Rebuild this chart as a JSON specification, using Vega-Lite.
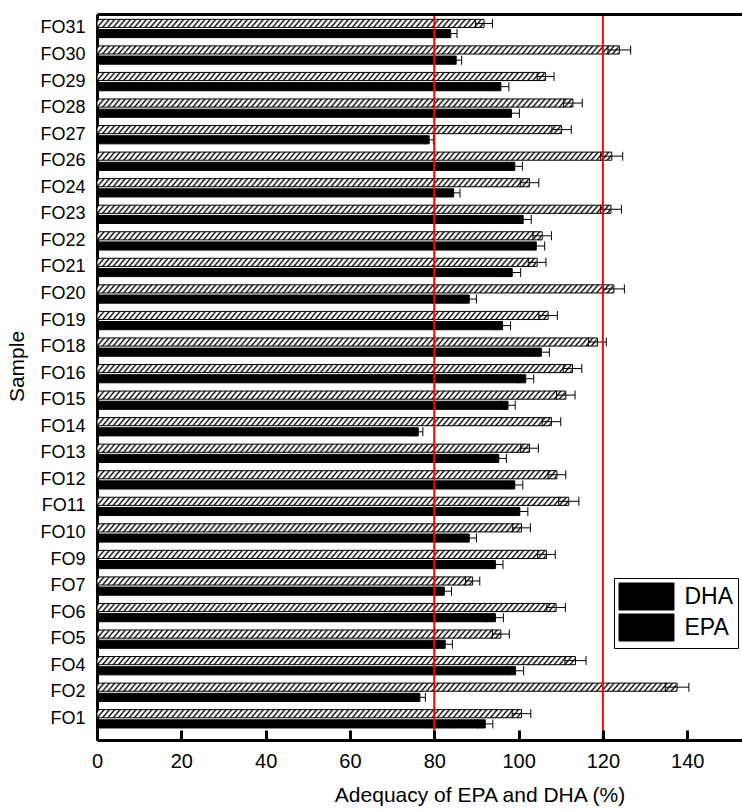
{
"$schema": "https://vega.github.io/schema/vega-lite/v6.json",
"width": 645, "height": 726,
"autosize": {"type": "none"},
"padding": {"left": 97, "top": 14, "right": 0, "bottom": 72},
"background": "white",
"config": {
  "view": {"stroke": null},
  "axis": {"labelFont": "Liberation Sans", "titleFont": "Liberation Sans", "labelColor": "#000", "titleColor": "#000", "domainColor": "#000", "tickColor": "#000", "grid": false, "titleFontWeight": "normal"},
  "axisY": {"domainWidth": 3, "ticks": false, "labelFontSize": 18, "labelPadding": 12, "titleFontSize": 21, "titleX": -80, "titleY": 352, "titleAngle": 270, "titleAlign": "center", "titleBaseline": "middle", "zindex": 1},
  "legend": {"labelFont": "Liberation Sans", "titleFont": "Liberation Sans"}
},
"data": {"values": [
{"s":"FO31","a":"DHA","v":91.8,"lo":89.8,"hi":93.8},{"s":"FO31","a":"EPA","v":83.9,"lo":82.4,"hi":85.4},
{"s":"FO30","a":"DHA","v":123.9,"lo":121.2,"hi":126.6},{"s":"FO30","a":"EPA","v":85.2,"lo":83.9,"hi":86.5},
{"s":"FO29","a":"DHA","v":106.4,"lo":104.4,"hi":108.4},{"s":"FO29","a":"EPA","v":95.8,"lo":93.9,"hi":97.7},
{"s":"FO28","a":"DHA","v":112.9,"lo":110.7,"hi":115.1},{"s":"FO28","a":"EPA","v":98.3,"lo":96.4,"hi":100.2},
{"s":"FO27","a":"DHA","v":110.2,"lo":107.9,"hi":112.5},{"s":"FO27","a":"EPA","v":78.8,"lo":77.8,"hi":79.8},
{"s":"FO26","a":"DHA","v":122.1,"lo":119.5,"hi":124.7},{"s":"FO26","a":"EPA","v":99.1,"lo":97.3,"hi":100.9},
{"s":"FO24","a":"DHA","v":102.6,"lo":100.4,"hi":104.8},{"s":"FO24","a":"EPA","v":84.6,"lo":83.1,"hi":86.1},
{"s":"FO23","a":"DHA","v":121.9,"lo":119.4,"hi":124.4},{"s":"FO23","a":"EPA","v":101.1,"lo":99.2,"hi":103.0},
{"s":"FO22","a":"DHA","v":105.6,"lo":103.4,"hi":107.8},{"s":"FO22","a":"EPA","v":104.2,"lo":102.2,"hi":106.2},
{"s":"FO21","a":"DHA","v":104.4,"lo":102.3,"hi":106.5},{"s":"FO21","a":"EPA","v":98.5,"lo":96.5,"hi":100.5},
{"s":"FO20","a":"DHA","v":122.6,"lo":120.1,"hi":125.1},{"s":"FO20","a":"EPA","v":88.3,"lo":86.6,"hi":90.0},
{"s":"FO19","a":"DHA","v":107.0,"lo":104.8,"hi":109.2},{"s":"FO19","a":"EPA","v":96.2,"lo":94.3,"hi":98.1},
{"s":"FO18","a":"DHA","v":118.7,"lo":116.6,"hi":120.8},{"s":"FO18","a":"EPA","v":105.4,"lo":103.5,"hi":107.3},
{"s":"FO16","a":"DHA","v":112.8,"lo":110.6,"hi":115.0},{"s":"FO16","a":"EPA","v":101.7,"lo":99.8,"hi":103.6},
{"s":"FO15","a":"DHA","v":111.2,"lo":109.0,"hi":113.4},{"s":"FO15","a":"EPA","v":97.5,"lo":95.8,"hi":99.2},
{"s":"FO14","a":"DHA","v":107.8,"lo":105.6,"hi":110.0},{"s":"FO14","a":"EPA","v":76.2,"lo":75.1,"hi":77.3},
{"s":"FO13","a":"DHA","v":102.6,"lo":100.5,"hi":104.7},{"s":"FO13","a":"EPA","v":95.3,"lo":93.5,"hi":97.1},
{"s":"FO12","a":"DHA","v":109.1,"lo":107.0,"hi":111.2},{"s":"FO12","a":"EPA","v":99.1,"lo":97.2,"hi":101.0},
{"s":"FO11","a":"DHA","v":111.9,"lo":109.5,"hi":114.3},{"s":"FO11","a":"EPA","v":100.3,"lo":98.4,"hi":102.2},
{"s":"FO10","a":"DHA","v":100.7,"lo":98.6,"hi":102.8},{"s":"FO10","a":"EPA","v":88.3,"lo":86.6,"hi":90.0},
{"s":"FO9","a":"DHA","v":106.6,"lo":104.5,"hi":108.7},{"s":"FO9","a":"EPA","v":94.5,"lo":92.7,"hi":96.3},
{"s":"FO7","a":"DHA","v":89.1,"lo":87.4,"hi":90.8},{"s":"FO7","a":"EPA","v":82.4,"lo":80.7,"hi":84.1},
{"s":"FO6","a":"DHA","v":108.9,"lo":106.7,"hi":111.1},{"s":"FO6","a":"EPA","v":94.5,"lo":92.6,"hi":96.4},
{"s":"FO5","a":"DHA","v":95.8,"lo":93.8,"hi":97.8},{"s":"FO5","a":"EPA","v":82.6,"lo":80.9,"hi":84.3},
{"s":"FO4","a":"DHA","v":113.5,"lo":111.0,"hi":116.0},{"s":"FO4","a":"EPA","v":99.3,"lo":97.4,"hi":101.2},
{"s":"FO2","a":"DHA","v":137.6,"lo":134.8,"hi":140.4},{"s":"FO2","a":"EPA","v":76.6,"lo":75.3,"hi":77.9},
{"s":"FO1","a":"DHA","v":100.7,"lo":98.5,"hi":102.9},{"s":"FO1","a":"EPA","v":92.1,"lo":90.3,"hi":93.9}
]},
"resolve": {"axis": {"x": "independent"}},
"layer": [
{
  "transform": [{"filter": "datum.a === 'DHA'"}],
  "mark": {"type": "bar", "fill": {"gradient": "linear", "x1": 0, "y1": 0, "x2": 1, "y2": 0.0116, "stops": [
{"offset":0,"color":"#fff"},{"offset":0.003,"color":"#000"},{"offset":0.006,"color":"#fff"},
{"offset":0.009,"color":"#fff"},{"offset":0.012,"color":"#000"},{"offset":0.015,"color":"#fff"},
{"offset":0.018,"color":"#fff"},{"offset":0.021,"color":"#000"},{"offset":0.024,"color":"#fff"},
{"offset":0.027,"color":"#fff"},{"offset":0.03,"color":"#000"},{"offset":0.033,"color":"#fff"},
{"offset":0.036,"color":"#fff"},{"offset":0.039,"color":"#000"},{"offset":0.042,"color":"#fff"},
{"offset":0.045,"color":"#fff"},{"offset":0.048,"color":"#000"},{"offset":0.051,"color":"#fff"},
{"offset":0.054,"color":"#fff"},{"offset":0.057,"color":"#000"},{"offset":0.06,"color":"#fff"},
{"offset":0.063,"color":"#fff"},{"offset":0.066,"color":"#000"},{"offset":0.069,"color":"#fff"},
{"offset":0.072,"color":"#fff"},{"offset":0.075,"color":"#000"},{"offset":0.078,"color":"#fff"},
{"offset":0.081,"color":"#fff"},{"offset":0.084,"color":"#000"},{"offset":0.087,"color":"#fff"},
{"offset":0.09,"color":"#fff"},{"offset":0.093,"color":"#000"},{"offset":0.096,"color":"#fff"},
{"offset":0.099,"color":"#fff"},{"offset":0.102,"color":"#000"},{"offset":0.105,"color":"#fff"},
{"offset":0.108,"color":"#fff"},{"offset":0.111,"color":"#000"},{"offset":0.114,"color":"#fff"},
{"offset":0.117,"color":"#fff"},{"offset":0.12,"color":"#000"},{"offset":0.123,"color":"#fff"},
{"offset":0.126,"color":"#fff"},{"offset":0.129,"color":"#000"},{"offset":0.132,"color":"#fff"},
{"offset":0.135,"color":"#fff"},{"offset":0.138,"color":"#000"},{"offset":0.141,"color":"#fff"},
{"offset":0.144,"color":"#fff"},{"offset":0.147,"color":"#000"},{"offset":0.15,"color":"#fff"},
{"offset":0.153,"color":"#fff"},{"offset":0.156,"color":"#000"},{"offset":0.159,"color":"#fff"},
{"offset":0.162,"color":"#fff"},{"offset":0.165,"color":"#000"},{"offset":0.168,"color":"#fff"},
{"offset":0.171,"color":"#fff"},{"offset":0.174,"color":"#000"},{"offset":0.177,"color":"#fff"},
{"offset":0.18,"color":"#fff"},{"offset":0.183,"color":"#000"},{"offset":0.186,"color":"#fff"},
{"offset":0.189,"color":"#fff"},{"offset":0.192,"color":"#000"},{"offset":0.195,"color":"#fff"},
{"offset":0.198,"color":"#fff"},{"offset":0.201,"color":"#000"},{"offset":0.204,"color":"#fff"},
{"offset":0.207,"color":"#fff"},{"offset":0.21,"color":"#000"},{"offset":0.213,"color":"#fff"},
{"offset":0.216,"color":"#fff"},{"offset":0.219,"color":"#000"},{"offset":0.222,"color":"#fff"},
{"offset":0.225,"color":"#fff"},{"offset":0.228,"color":"#000"},{"offset":0.231,"color":"#fff"},
{"offset":0.234,"color":"#fff"},{"offset":0.237,"color":"#000"},{"offset":0.24,"color":"#fff"},
{"offset":0.243,"color":"#fff"},{"offset":0.246,"color":"#000"},{"offset":0.249,"color":"#fff"},
{"offset":0.252,"color":"#fff"},{"offset":0.255,"color":"#000"},{"offset":0.258,"color":"#fff"},
{"offset":0.261,"color":"#fff"},{"offset":0.264,"color":"#000"},{"offset":0.267,"color":"#fff"},
{"offset":0.27,"color":"#fff"},{"offset":0.273,"color":"#000"},{"offset":0.276,"color":"#fff"},
{"offset":0.279,"color":"#fff"},{"offset":0.282,"color":"#000"},{"offset":0.285,"color":"#fff"},
{"offset":0.288,"color":"#fff"},{"offset":0.291,"color":"#000"},{"offset":0.294,"color":"#fff"},
{"offset":0.297,"color":"#fff"},{"offset":0.3,"color":"#000"},{"offset":0.303,"color":"#fff"},
{"offset":0.306,"color":"#fff"},{"offset":0.309,"color":"#000"},{"offset":0.312,"color":"#fff"},
{"offset":0.315,"color":"#fff"},{"offset":0.318,"color":"#000"},{"offset":0.321,"color":"#fff"},
{"offset":0.324,"color":"#fff"},{"offset":0.327,"color":"#000"},{"offset":0.33,"color":"#fff"},
{"offset":0.333,"color":"#fff"},{"offset":0.336,"color":"#000"},{"offset":0.339,"color":"#fff"},
{"offset":0.342,"color":"#fff"},{"offset":0.345,"color":"#000"},{"offset":0.348,"color":"#fff"},
{"offset":0.351,"color":"#fff"},{"offset":0.354,"color":"#000"},{"offset":0.357,"color":"#fff"},
{"offset":0.36,"color":"#fff"},{"offset":0.363,"color":"#000"},{"offset":0.366,"color":"#fff"},
{"offset":0.369,"color":"#fff"},{"offset":0.372,"color":"#000"},{"offset":0.375,"color":"#fff"},
{"offset":0.378,"color":"#fff"},{"offset":0.381,"color":"#000"},{"offset":0.384,"color":"#fff"},
{"offset":0.387,"color":"#fff"},{"offset":0.39,"color":"#000"},{"offset":0.393,"color":"#fff"},
{"offset":0.396,"color":"#fff"},{"offset":0.399,"color":"#000"},{"offset":0.402,"color":"#fff"},
{"offset":0.405,"color":"#fff"},{"offset":0.408,"color":"#000"},{"offset":0.411,"color":"#fff"},
{"offset":0.414,"color":"#fff"},{"offset":0.417,"color":"#000"},{"offset":0.42,"color":"#fff"},
{"offset":0.423,"color":"#fff"},{"offset":0.426,"color":"#000"},{"offset":0.429,"color":"#fff"},
{"offset":0.432,"color":"#fff"},{"offset":0.435,"color":"#000"},{"offset":0.438,"color":"#fff"},
{"offset":0.441,"color":"#fff"},{"offset":0.444,"color":"#000"},{"offset":0.447,"color":"#fff"},
{"offset":0.45,"color":"#fff"},{"offset":0.453,"color":"#000"},{"offset":0.456,"color":"#fff"},
{"offset":0.459,"color":"#fff"},{"offset":0.462,"color":"#000"},{"offset":0.465,"color":"#fff"},
{"offset":0.468,"color":"#fff"},{"offset":0.471,"color":"#000"},{"offset":0.474,"color":"#fff"},
{"offset":0.477,"color":"#fff"},{"offset":0.48,"color":"#000"},{"offset":0.483,"color":"#fff"},
{"offset":0.486,"color":"#fff"},{"offset":0.489,"color":"#000"},{"offset":0.492,"color":"#fff"},
{"offset":0.495,"color":"#fff"},{"offset":0.498,"color":"#000"},{"offset":0.501,"color":"#fff"},
{"offset":0.504,"color":"#fff"},{"offset":0.507,"color":"#000"},{"offset":0.51,"color":"#fff"},
{"offset":0.513,"color":"#fff"},{"offset":0.516,"color":"#000"},{"offset":0.519,"color":"#fff"},
{"offset":0.522,"color":"#fff"},{"offset":0.525,"color":"#000"},{"offset":0.528,"color":"#fff"},
{"offset":0.531,"color":"#fff"},{"offset":0.534,"color":"#000"},{"offset":0.537,"color":"#fff"},
{"offset":0.54,"color":"#fff"},{"offset":0.543,"color":"#000"},{"offset":0.546,"color":"#fff"},
{"offset":0.549,"color":"#fff"},{"offset":0.552,"color":"#000"},{"offset":0.555,"color":"#fff"},
{"offset":0.558,"color":"#fff"},{"offset":0.561,"color":"#000"},{"offset":0.564,"color":"#fff"},
{"offset":0.567,"color":"#fff"},{"offset":0.57,"color":"#000"},{"offset":0.573,"color":"#fff"},
{"offset":0.576,"color":"#fff"},{"offset":0.579,"color":"#000"},{"offset":0.582,"color":"#fff"},
{"offset":0.585,"color":"#fff"},{"offset":0.588,"color":"#000"},{"offset":0.591,"color":"#fff"},
{"offset":0.594,"color":"#fff"},{"offset":0.597,"color":"#000"},{"offset":0.6,"color":"#fff"},
{"offset":0.603,"color":"#fff"},{"offset":0.606,"color":"#000"},{"offset":0.609,"color":"#fff"},
{"offset":0.612,"color":"#fff"},{"offset":0.615,"color":"#000"},{"offset":0.618,"color":"#fff"},
{"offset":0.621,"color":"#fff"},{"offset":0.624,"color":"#000"},{"offset":0.627,"color":"#fff"},
{"offset":0.63,"color":"#fff"},{"offset":0.633,"color":"#000"},{"offset":0.636,"color":"#fff"},
{"offset":0.639,"color":"#fff"},{"offset":0.642,"color":"#000"},{"offset":0.645,"color":"#fff"},
{"offset":0.648,"color":"#fff"},{"offset":0.651,"color":"#000"},{"offset":0.654,"color":"#fff"},
{"offset":0.657,"color":"#fff"},{"offset":0.66,"color":"#000"},{"offset":0.663,"color":"#fff"},
{"offset":0.666,"color":"#fff"},{"offset":0.669,"color":"#000"},{"offset":0.672,"color":"#fff"},
{"offset":0.675,"color":"#fff"},{"offset":0.678,"color":"#000"},{"offset":0.681,"color":"#fff"},
{"offset":0.684,"color":"#fff"},{"offset":0.687,"color":"#000"},{"offset":0.69,"color":"#fff"},
{"offset":0.693,"color":"#fff"},{"offset":0.696,"color":"#000"},{"offset":0.699,"color":"#fff"},
{"offset":0.702,"color":"#fff"},{"offset":0.705,"color":"#000"},{"offset":0.708,"color":"#fff"},
{"offset":0.711,"color":"#fff"},{"offset":0.714,"color":"#000"},{"offset":0.717,"color":"#fff"},
{"offset":0.72,"color":"#fff"},{"offset":0.723,"color":"#000"},{"offset":0.726,"color":"#fff"},
{"offset":0.729,"color":"#fff"},{"offset":0.732,"color":"#000"},{"offset":0.735,"color":"#fff"},
{"offset":0.738,"color":"#fff"},{"offset":0.741,"color":"#000"},{"offset":0.744,"color":"#fff"},
{"offset":0.747,"color":"#fff"},{"offset":0.75,"color":"#000"},{"offset":0.753,"color":"#fff"},
{"offset":0.756,"color":"#fff"},{"offset":0.759,"color":"#000"},{"offset":0.762,"color":"#fff"},
{"offset":0.765,"color":"#fff"},{"offset":0.768,"color":"#000"},{"offset":0.771,"color":"#fff"},
{"offset":0.774,"color":"#fff"},{"offset":0.777,"color":"#000"},{"offset":0.78,"color":"#fff"},
{"offset":0.783,"color":"#fff"},{"offset":0.786,"color":"#000"},{"offset":0.789,"color":"#fff"},
{"offset":0.792,"color":"#fff"},{"offset":0.795,"color":"#000"},{"offset":0.798,"color":"#fff"},
{"offset":0.801,"color":"#fff"},{"offset":0.804,"color":"#000"},{"offset":0.807,"color":"#fff"},
{"offset":0.81,"color":"#fff"},{"offset":0.813,"color":"#000"},{"offset":0.816,"color":"#fff"},
{"offset":0.819,"color":"#fff"},{"offset":0.822,"color":"#000"},{"offset":0.825,"color":"#fff"},
{"offset":0.828,"color":"#fff"},{"offset":0.831,"color":"#000"},{"offset":0.834,"color":"#fff"},
{"offset":0.837,"color":"#fff"},{"offset":0.84,"color":"#000"},{"offset":0.843,"color":"#fff"},
{"offset":0.846,"color":"#fff"},{"offset":0.849,"color":"#000"},{"offset":0.852,"color":"#fff"},
{"offset":0.855,"color":"#fff"},{"offset":0.858,"color":"#000"},{"offset":0.861,"color":"#fff"},
{"offset":0.864,"color":"#fff"},{"offset":0.867,"color":"#000"},{"offset":0.87,"color":"#fff"},
{"offset":0.873,"color":"#fff"},{"offset":0.876,"color":"#000"},{"offset":0.879,"color":"#fff"},
{"offset":0.882,"color":"#fff"},{"offset":0.885,"color":"#000"},{"offset":0.888,"color":"#fff"},
{"offset":0.891,"color":"#fff"},{"offset":0.894,"color":"#000"},{"offset":0.897,"color":"#fff"},
{"offset":0.9,"color":"#fff"},{"offset":0.903,"color":"#000"},{"offset":0.906,"color":"#fff"},
{"offset":0.909,"color":"#fff"},{"offset":0.912,"color":"#000"},{"offset":0.915,"color":"#fff"},
{"offset":0.918,"color":"#fff"},{"offset":0.921,"color":"#000"},{"offset":0.924,"color":"#fff"},
{"offset":0.927,"color":"#fff"},{"offset":0.93,"color":"#000"},{"offset":0.933,"color":"#fff"},
{"offset":0.936,"color":"#fff"},{"offset":0.939,"color":"#000"},{"offset":0.942,"color":"#fff"},
{"offset":0.945,"color":"#fff"},{"offset":0.948,"color":"#000"},{"offset":0.951,"color":"#fff"},
{"offset":0.954,"color":"#fff"},{"offset":0.957,"color":"#000"},{"offset":0.96,"color":"#fff"},
{"offset":0.963,"color":"#fff"},{"offset":0.966,"color":"#000"},{"offset":0.969,"color":"#fff"},
{"offset":0.972,"color":"#fff"},{"offset":0.975,"color":"#000"},{"offset":0.978,"color":"#fff"},
{"offset":0.981,"color":"#fff"},{"offset":0.984,"color":"#000"},{"offset":0.987,"color":"#fff"},
{"offset":0.99,"color":"#fff"},{"offset":0.993,"color":"#000"},{"offset":0.996,"color":"#fff"},
{"offset":1,"color":"#fff"}
  ]}},
  "encoding": {
    "y": {"field": "s", "type": "nominal", "axis": {"title": "Sample"}},
    "yOffset": {"field": "a", "type": "nominal"},
    "x": {"datum": 0, "type": "quantitative", "scale": {"domain": [0, 153], "nice": false}, "axis": null},
    "x2": {"datum": 140}
  }
},
{
  "transform": [{"filter": "datum.a === 'DHA'"}],
  "mark": {"type": "bar", "fill": "#ffffff", "stroke": "#ffffff", "strokeWidth": 1.5},
  "encoding": {
    "y": {"field": "s", "type": "nominal", "axis": {"title": "Sample"}},
    "yOffset": {"field": "a", "type": "nominal"},
    "x": {"field": "v", "type": "quantitative", "scale": {"domain": [0, 153], "nice": false}, "axis": null},
    "x2": {"datum": 141}
  }
},
{
  "mark": {"type": "bar", "strokeWidth": 1},
  "encoding": {
    "y": {"field": "s", "type": "nominal", "scale": {"domain": ["FO31","FO30","FO29","FO28","FO27","FO26","FO24","FO23","FO22","FO21","FO20","FO19","FO18","FO16","FO15","FO14","FO13","FO12","FO11","FO10","FO9","FO7","FO6","FO5","FO4","FO2","FO1"], "paddingInner": 0.31, "paddingOuter": 0.327, "align": 0.307},
      "axis": {"title": "Sample"}},
    "yOffset": {"field": "a", "type": "nominal", "scale": {"domain": ["DHA","EPA"], "paddingInner": 0.2, "paddingOuter": 0}},
    "x": {"field": "v", "type": "quantitative", "scale": {"domain": [0, 153], "nice": false},
      "axis": {"orient": "bottom", "values": [0,20,40,60,80,100,120,140], "tickSize": -10, "tickWidth": 3, "domainWidth": 3, "labelFontSize": 20, "labelPadding": 37, "labelBaseline": "alphabetic", "labelFlush": false, "title": "Adequacy of EPA and DHA (%)", "titleFontSize": 21, "titleX": 382.5, "titleY": 61, "titleAlign": "center", "titleBaseline": "alphabetic", "zindex": 1}},
    "fill": {"condition": {"test": "datum.a === 'DHA'", "value": "rgba(0,0,0,0)"}, "value": "#000000"},
    "stroke": {"field": "a", "type": "nominal", "scale": {"domain": ["DHA","EPA"], "range": ["#000000", "#000000"]},
      "legend": {"orient": "none", "legendX": 517, "legendY": 564, "title": null, "direction": "vertical",
        "symbolType": "M-1,-1H3.074V1H-1Z", "symbolSize": 729, "symbolStrokeWidth": 1,
        "labelFontSize": 23, "labelColor": "#000000", "labelOffset": 38, "rowPadding": -1, "padding": 4.5, "strokeColor": "#000000",
        "encode": {"symbols": {"fill": {"condition": {"test": "datum.value === 'DHA' || datum.label === 'DHA' || datum.index === 0 || (isObject(datum.datum) && datum.datum.value === 'DHA')", "value": {"gradient": "linear", "x1": 0, "y1": 0, "x2": 1.207, "y2": 0.4979, "stops": [
{"offset":0,"color":"#fff"},{"offset":0.018,"color":"#000"},{"offset":0.036,"color":"#fff"},
{"offset":0.068,"color":"#fff"},{"offset":0.086,"color":"#000"},{"offset":0.104,"color":"#fff"},
{"offset":0.136,"color":"#fff"},{"offset":0.154,"color":"#000"},{"offset":0.172,"color":"#fff"},
{"offset":0.204,"color":"#fff"},{"offset":0.222,"color":"#000"},{"offset":0.24,"color":"#fff"},
{"offset":0.272,"color":"#fff"},{"offset":0.29,"color":"#000"},{"offset":0.308,"color":"#fff"},
{"offset":0.34,"color":"#fff"},{"offset":0.358,"color":"#000"},{"offset":0.376,"color":"#fff"},
{"offset":0.408,"color":"#fff"},{"offset":0.426,"color":"#000"},{"offset":0.444,"color":"#fff"},
{"offset":0.476,"color":"#fff"},{"offset":0.494,"color":"#000"},{"offset":0.512,"color":"#fff"},
{"offset":0.544,"color":"#fff"},{"offset":0.562,"color":"#000"},{"offset":0.58,"color":"#fff"},
{"offset":0.612,"color":"#fff"},{"offset":0.63,"color":"#000"},{"offset":0.648,"color":"#fff"},
{"offset":0.68,"color":"#fff"},{"offset":0.698,"color":"#000"},{"offset":0.716,"color":"#fff"},
{"offset":0.748,"color":"#fff"},{"offset":0.766,"color":"#000"},{"offset":0.784,"color":"#fff"},
{"offset":0.816,"color":"#fff"},{"offset":0.834,"color":"#000"},{"offset":0.852,"color":"#fff"},
{"offset":0.884,"color":"#fff"},{"offset":0.902,"color":"#000"},{"offset":0.92,"color":"#fff"},
{"offset":0.952,"color":"#fff"},{"offset":0.97,"color":"#000"},{"offset":0.988,"color":"#fff"},
{"offset":1,"color":"#fff"}
        ]}}, "value": "#000000"}, "strokeWidth": {"value": 1}, "fillOpacity": {"value": 1}, "opacity": {"value": 1}}}
      }}
  }
},
{
  "mark": {"type": "rule", "color": "#000000", "strokeWidth": 1},
  "encoding": {
    "y": {"field": "s", "type": "nominal", "axis": {"title": "Sample"}},
    "yOffset": {"field": "a", "type": "nominal"},
    "x": {"field": "lo", "type": "quantitative", "scale": {"domain": [0, 153], "nice": false}, "axis": null},
    "x2": {"field": "hi"}
  }
},
{
  "mark": {"type": "tick", "color": "#000000", "thickness": 1, "size": 9, "opacity": 1},
  "encoding": {
    "y": {"field": "s", "type": "nominal", "axis": {"title": "Sample"}},
    "yOffset": {"field": "a", "type": "nominal"},
    "x": {"field": "lo", "type": "quantitative", "scale": {"domain": [0, 153], "nice": false}, "axis": null}
  }
},
{
  "mark": {"type": "tick", "color": "#000000", "thickness": 1, "size": 9, "opacity": 1},
  "encoding": {
    "y": {"field": "s", "type": "nominal", "axis": {"title": "Sample"}},
    "yOffset": {"field": "a", "type": "nominal"},
    "x": {"field": "hi", "type": "quantitative", "scale": {"domain": [0, 153], "nice": false}, "axis": null}
  }
},
{
  "data": {"values": [{"ref": 80}, {"ref": 120}]},
  "mark": {"type": "rule", "color": "#ff0000", "strokeWidth": 2},
  "encoding": {
    "x": {"field": "ref", "type": "quantitative", "scale": {"domain": [0, 153], "nice": false},
      "axis": {"orient": "top", "labels": false, "ticks": false, "title": null, "domainWidth": 3, "zindex": 1}}
  }
}
]
}
